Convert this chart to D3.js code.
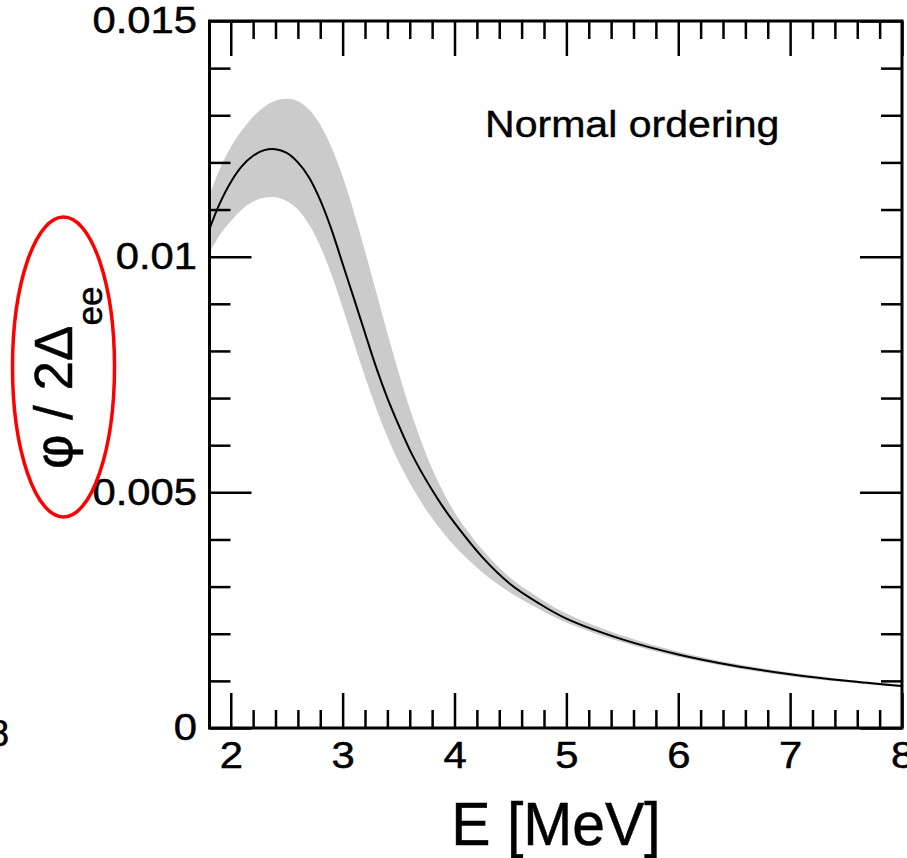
<!DOCTYPE html>
<html>
<head>
<meta charset="utf-8">
<script src="https://cdn.jsdelivr.net/npm/d3@7/dist/d3.min.js"></script>
<style>
  html, body { margin: 0; padding: 0; background: #fff; }
  svg { display: block; }
  text { font-family: "Liberation Sans", Arial, Helvetica, sans-serif; fill: #000; }
</style>
</head>
<body>
<svg id="chart" width="907" height="858"></svg>
<script>
// ---- data ----
const energy   = [1.81, 1.9, 2.0, 2.1, 2.2, 2.3, 2.4, 2.5, 2.6, 2.7, 2.8, 2.9, 3.0, 3.1, 3.2, 3.3, 3.4, 3.5, 3.6, 3.7, 3.8, 3.9, 4.0, 4.25, 4.5, 4.75, 5.0, 5.5, 6.0, 6.5, 7.0, 7.5, 8.0];
const central  = [0.01059, 0.01112, 0.01158, 0.01192, 0.01214, 0.01226, 0.01228, 0.01220, 0.01200, 0.01168, 0.01120, 0.01058, 0.00985, 0.00912, 0.00838, 0.00765, 0.00700, 0.00643, 0.00590, 0.00545, 0.00505, 0.00468, 0.00435, 0.00362, 0.00305, 0.00265, 0.00232, 0.00188, 0.00156, 0.00132, 0.00114, 0.00100, 0.00089];
const bandLow  = [0.01008, 0.01045, 0.01075, 0.01100, 0.01117, 0.01125, 0.01126, 0.01118, 0.01100, 0.01068, 0.01022, 0.00962, 0.00892, 0.00818, 0.00745, 0.00678, 0.00618, 0.00565, 0.00520, 0.00480, 0.00445, 0.00414, 0.00386, 0.00330, 0.00287, 0.00253, 0.00224, 0.00182, 0.00151, 0.00128, 0.00110, 0.00097, 0.00086];
const bandHigh = [0.01130, 0.01185, 0.01232, 0.01268, 0.01297, 0.01318, 0.01331, 0.01335, 0.01330, 0.01312, 0.01280, 0.01232, 0.01170, 0.01095, 0.01012, 0.00925, 0.00838, 0.00755, 0.00678, 0.00610, 0.00550, 0.00500, 0.00458, 0.00378, 0.00318, 0.00277, 0.00243, 0.00196, 0.00162, 0.00137, 0.00118, 0.00103, 0.00092];

const xMajorTicks = [2, 3, 4, 5, 6, 7, 8];
const xMinorTicks = [2.2, 2.4, 2.6, 2.8, 3.2, 3.4, 3.6, 3.8, 4.2, 4.4, 4.6, 4.8, 5.2, 5.4, 5.6, 5.8, 6.2, 6.4, 6.6, 6.8, 7.2, 7.4, 7.6, 7.8];
const yMajorTicks = [0, 0.005, 0.01, 0.015];
const yMajorLabels = ["0", "0.005", "0.01", "0.015"];
const yMinorTicks = [0.001, 0.002, 0.003, 0.004, 0.006, 0.007, 0.008, 0.009, 0.011, 0.012, 0.013, 0.014];
const xTitle = "E [MeV]";
const yTitleMain = "φ / 2Δ";
const yTitleSub = "ee";
const annotation = "Normal ordering";

// ---- layout ----
const svg = d3.select("#chart");
const pL = 209.5, pR = 902, pT = 21, pB = 728;
const x = d3.scaleLinear().domain([1.81, 8]).range([pL, pR]);
const y = d3.scaleLinear().domain([0, 0.015]).range([pB, pT]);

const rows = energy.map((e, i) => ({ e, c: central[i], lo: bandLow[i], hi: bandHigh[i] }));

svg.append("clipPath").attr("id", "plotclip")
  .append("rect").attr("x", pL).attr("y", pT).attr("width", pR - pL).attr("height", pB - pT);

const plot = svg.append("g").attr("clip-path", "url(#plotclip)");
plot.append("path").datum(rows)
  .attr("fill", "#cbcbcb")
  .attr("d", d3.area().curve(d3.curveCatmullRom.alpha(0.5)).x(d => x(d.e)).y0(d => y(d.lo)).y1(d => y(d.hi)));
plot.append("path").datum(rows)
  .attr("fill", "none").attr("stroke", "#000").attr("stroke-width", 2)
  .attr("d", d3.line().curve(d3.curveCatmullRom.alpha(0.5)).x(d => x(d.e)).y(d => y(d.c)));

const LABEL_SIZE = 37, LABEL_STRETCH = 1.13;
function styleAxis(g) {
  g.select(".domain").remove();
  g.selectAll(".tick line").attr("stroke", "#000").attr("stroke-width", 2.5);
  g.selectAll(".tick text")
    .style("font-family", "'Liberation Sans', Arial, sans-serif")
    .attr("font-size", LABEL_SIZE).attr("fill", "#000")
    .attr("stroke", "#000").attr("stroke-width", 0.5);
}

// bottom
svg.append("g").attr("transform", `translate(0,${pB})`)
  .call(d3.axisBottom(x).tickValues(xMinorTicks).tickSizeInner(-18).tickSizeOuter(0).tickFormat(""))
  .call(styleAxis);
svg.append("g").attr("transform", `translate(0,${pB})`)
  .call(d3.axisBottom(x).tickValues(xMajorTicks).tickSizeInner(-35).tickSizeOuter(0).tickPadding(14).tickFormat(d3.format("d")))
  .call(styleAxis)
  .call(g => g.selectAll(".tick text").attr("dy", "0.71em").attr("transform", `scale(${LABEL_STRETCH},1)`));
// top
svg.append("g").attr("transform", `translate(0,${pT})`)
  .call(d3.axisTop(x).tickValues(xMinorTicks).tickSizeInner(-18).tickSizeOuter(0).tickFormat(""))
  .call(styleAxis);
svg.append("g").attr("transform", `translate(0,${pT})`)
  .call(d3.axisTop(x).tickValues(xMajorTicks).tickSizeInner(-35).tickSizeOuter(0).tickFormat(""))
  .call(styleAxis);
// left
svg.append("g").attr("transform", `translate(${pL},0)`)
  .call(d3.axisLeft(y).tickValues(yMinorTicks).tickSizeInner(-21).tickSizeOuter(0).tickFormat(""))
  .call(styleAxis);
svg.append("g").attr("transform", `translate(${pL},0)`)
  .call(d3.axisLeft(y).tickValues(yMajorTicks).tickSizeInner(-42).tickSizeOuter(0).tickPadding(11)
    .tickFormat((d, i) => yMajorLabels[i]))
  .call(styleAxis)
  .call(g => g.selectAll(".tick text").attr("transform", `scale(${LABEL_STRETCH},1)`));
// right
svg.append("g").attr("transform", `translate(${pR},0)`)
  .call(d3.axisRight(y).tickValues(yMinorTicks).tickSizeInner(-21).tickSizeOuter(0).tickFormat(""))
  .call(styleAxis);
svg.append("g").attr("transform", `translate(${pR},0)`)
  .call(d3.axisRight(y).tickValues(yMajorTicks).tickSizeInner(-42).tickSizeOuter(0).tickFormat(""))
  .call(styleAxis);

// frame
svg.append("rect").attr("x", pL).attr("y", pT).attr("width", pR - pL).attr("height", pB - pT)
  .attr("fill", "none").attr("stroke", "#000").attr("stroke-width", 3);

// annotation
svg.append("text").attr("transform", "translate(485,137) scale(1.11,1)")
  .attr("font-size", 37).attr("stroke", "#000").attr("stroke-width", 0.4).text(annotation);

// x title
svg.append("text").attr("transform", "translate(556,845) scale(0.95,1)").attr("text-anchor", "middle")
  .attr("font-size", 62).attr("stroke", "#000").attr("stroke-width", 0.5).text(xTitle);

// y title
const yt = svg.append("text").attr("transform", "translate(72,469) rotate(-90)")
  .attr("font-size", 53).attr("stroke", "#000").attr("stroke-width", 0.5);
yt.append("tspan").text(yTitleMain);
yt.append("tspan").attr("font-size", 35).attr("dy", 30).text(yTitleSub);

// red annotation ellipse
svg.append("ellipse").attr("cx", 63.5).attr("cy", 367).attr("rx", 51).attr("ry", 150)
  .attr("fill", "none").attr("stroke", "#ff0000").attr("stroke-width", 3.5);

// cut-off glyph at left edge (from a neighbouring panel)
svg.append("text").attr("x", 9).attr("y", 746).attr("text-anchor", "end")
  .attr("font-size", 37).attr("stroke", "#000").attr("stroke-width", 0.5).text("8");
</script>
</body>
</html>
